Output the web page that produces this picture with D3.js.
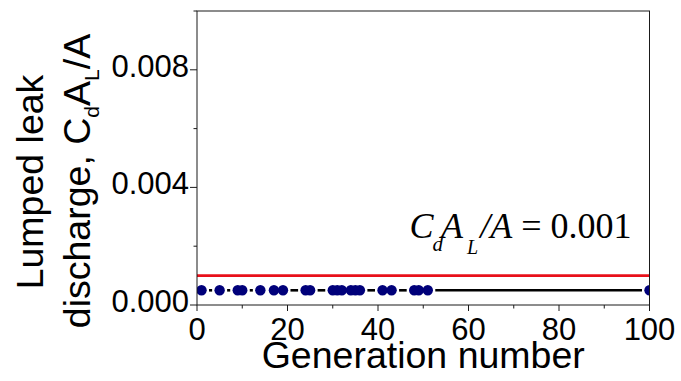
<!DOCTYPE html>
<html>
<head>
<meta charset="utf-8">
<script src="https://cdn.jsdelivr.net/npm/d3@7"></script>
<style>
  html, body { margin: 0; padding: 0; background: #fff; }
  svg { display: block; }
</style>
</head>
<body>
<svg id="chart" width="681" height="381"></svg>
<script>
// Generations at which a leak was recorded, and the lumped leak discharge at each
const generations = [1, 5, 9, 10, 14, 17, 19, 24, 25, 30, 31, 32, 34, 35, 36, 41, 43, 48, 49, 51, 100];
const discharge = [0.0005, 0.0005, 0.0005, 0.0005, 0.0005, 0.0005, 0.0005, 0.0005, 0.0005, 0.0005,
                   0.0005, 0.0005, 0.0005, 0.0005, 0.0005, 0.0005, 0.0005, 0.0005, 0.0005, 0.0005, 0.0005];
// Reference threshold C_d A_L / A
const threshold = 0.001;
const xTicks = [0, 20, 40, 60, 80, 100];
const xMinorTicks = [10, 30, 50, 70, 90];
const yTicks = [0, 0.004, 0.008];
const yMinorTicks = [0.002, 0.006, 0.01];
const xDomain = [0, 100];
const yDomain = [0, 0.01];

const W = 681, H = 381;
const margin = { top: 11, right: 31.5, bottom: 76, left: 197 };
const iw = W - margin.left - margin.right;
const ih = H - margin.top - margin.bottom;

const svg = d3.select("#chart");
const g = svg.append("g").attr("transform", `translate(${margin.left},${margin.top})`);

const x = d3.scaleLinear().domain(xDomain).range([0, iw]);
const y = d3.scaleLinear().domain(yDomain).range([ih, 0]);

const sans = "'Liberation Sans', Arial, sans-serif";
const serif = "'Liberation Serif', 'Times New Roman', serif";

// clip marks to the plot frame
svg.append("defs").append("clipPath").attr("id", "plotClip")
  .append("rect").attr("width", iw).attr("height", ih);

const plot = g.append("g").attr("clip-path", "url(#plotClip)");

const pts = generations.map((gen, i) => ({ gen, v: discharge[i] }));
const r = 5.2, gap = 2.3;

// connecting line, broken around each symbol
const segs = d3.pairs(pts).map(([a, b]) => {
  const x1 = x(a.gen), x2 = x(b.gen);
  return { x1: x1 + r + gap, x2: x2 - r - gap, y1: y(a.v), y2: y(b.v) };
}).filter(s => s.x2 > s.x1);

plot.selectAll("line.seg").data(segs).join("line")
  .attr("class", "seg")
  .attr("x1", d => d.x1).attr("x2", d => d.x2)
  .attr("y1", d => d.y1).attr("y2", d => d.y2)
  .attr("stroke", "#000").attr("stroke-width", 2.6);

// threshold line
plot.append("line")
  .attr("x1", x(xDomain[0])).attr("x2", x(xDomain[1]))
  .attr("y1", y(threshold)).attr("y2", y(threshold))
  .attr("stroke", "#e8101a").attr("stroke-width", 2.6);

// symbols
plot.selectAll("circle.pt").data(pts).join("circle")
  .attr("class", "pt")
  .attr("cx", d => x(d.gen)).attr("cy", d => y(d.v)).attr("r", r)
  .attr("fill", "#00007a");

// frame
g.append("rect").attr("width", iw).attr("height", ih)
  .attr("fill", "none").attr("stroke", "#1a1a1a").attr("stroke-width", 1);

// x axis
const xAxis = g.append("g").attr("transform", `translate(0,${ih})`);
xAxis.selectAll("line.maj").data(xTicks).join("line")
  .attr("x1", d => x(d)).attr("x2", d => x(d)).attr("y1", 0).attr("y2", 6)
  .attr("stroke", "#1a1a1a").attr("stroke-width", 1);
xAxis.selectAll("line.min").data(xMinorTicks).join("line")
  .attr("x1", d => x(d)).attr("x2", d => x(d)).attr("y1", 0).attr("y2", 3.5)
  .attr("stroke", "#1a1a1a").attr("stroke-width", 1);
xAxis.selectAll("text").data(xTicks).join("text")
  .attr("x", d => x(d)).attr("y", 35)
  .attr("text-anchor", "middle")
  .attr("font-family", sans).attr("font-size", 31)
  .text(d => d3.format("d")(d));

// y axis
const yAxis = g.append("g");
yAxis.selectAll("line.maj").data(yTicks).join("line")
  .attr("x1", -7).attr("x2", 0).attr("y1", d => y(d)).attr("y2", d => y(d))
  .attr("stroke", "#1a1a1a").attr("stroke-width", 1);
yAxis.selectAll("line.min").data(yMinorTicks).join("line")
  .attr("x1", -3.5).attr("x2", 0).attr("y1", d => y(d)).attr("y2", d => y(d))
  .attr("stroke", "#1a1a1a").attr("stroke-width", 1);
yAxis.selectAll("text").data(yTicks).join("text")
  .attr("x", -8).attr("y", d => y(d) + 7)
  .attr("text-anchor", "end")
  .attr("font-family", sans).attr("font-size", 31)
  .text(d => d3.format(".3f")(d));

// x title
svg.append("text")
  .attr("x", margin.left + iw / 2).attr("y", 368)
  .attr("text-anchor", "middle")
  .attr("font-family", sans).attr("font-size", 37.5)
  .text("Generation number");

// y title, two lines
svg.append("text")
  .attr("transform", "translate(43,182) rotate(-90)")
  .attr("text-anchor", "middle")
  .attr("font-family", sans).attr("font-size", 37.5)
  .text("Lumped leak");

const yt2 = svg.append("text")
  .attr("transform", "translate(90,181) rotate(-90)")
  .attr("text-anchor", "middle")
  .attr("font-family", sans).attr("font-size", 37.5);
yt2.append("tspan").text("discharge, C");
yt2.append("tspan").attr("font-size", 21).attr("dy", 9).text("d");
yt2.append("tspan").attr("dy", -9).text("A");
yt2.append("tspan").attr("font-size", 21).attr("dy", 9).text("L");
yt2.append("tspan").attr("dy", -9).text("/A");

// threshold annotation
const ann = g.append("text")
  .attr("x", 212.5).attr("y", 227.3)
  .attr("font-family", serif).attr("font-size", 36);
ann.append("tspan").attr("font-style", "italic").text("C");
ann.append("tspan").attr("font-style", "italic").attr("font-size", 21).attr("dy", 13).attr("dx", -1).text("d");
ann.append("tspan").attr("font-style", "italic").attr("dy", -13).attr("dx", -2).text("A");
ann.append("tspan").attr("font-style", "italic").attr("font-size", 20).attr("dy", 16).attr("dx", 4).text("L");
ann.append("tspan").attr("font-style", "italic").attr("dy", -16).attr("dx", 2).text("/A");
ann.append("tspan").text(" = " + d3.format(".3f")(threshold));
</script>
</body>
</html>
